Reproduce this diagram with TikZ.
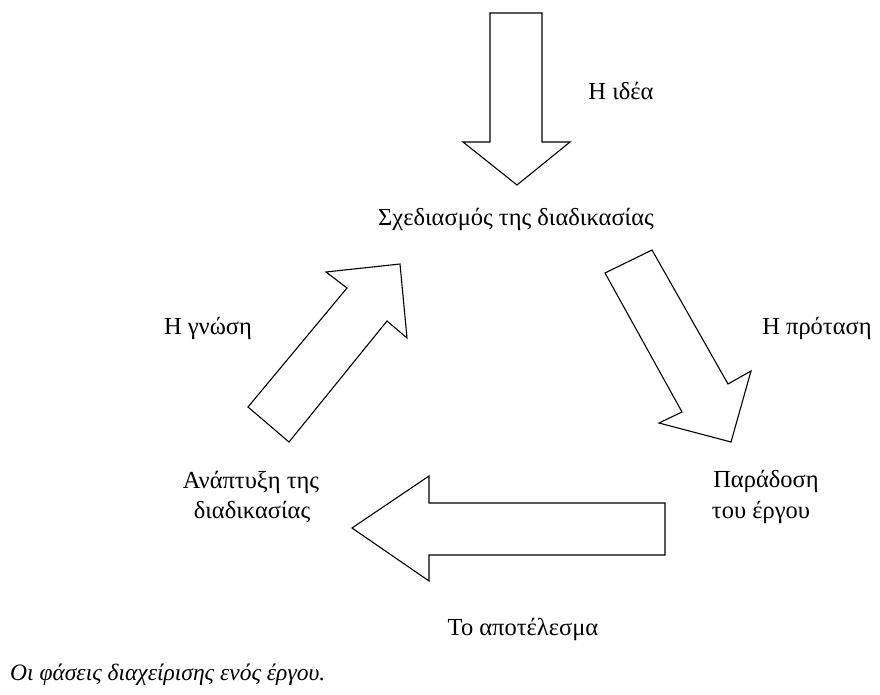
\documentclass[tikz,border=0pt]{standalone}
\usepackage{fontspec}
\setmainfont{Liberation Serif}
\begin{document}
\begin{tikzpicture}[x=1pt,y=-1pt,
  blockarrow/.style={draw=black,line width=1.1pt,fill=white,line join=miter},
  lbl/.style={font=\fontsize{24.5}{30}\selectfont,anchor=base,inner sep=0pt,align=center},
  captxt/.style={font=\fontsize{23.5}{30}\selectfont\itshape,anchor=base west,inner sep=0pt}]
\useasboundingbox[fill=white] (0,0) rectangle (880,695);
% down arrow (the idea)
\draw[blockarrow] (490,13) -- (542,13) -- (542,142) -- (570,142) -- (517,185) -- (463,142) -- (490,142) -- cycle;
% up-right arrow (knowledge)
\draw[blockarrow] (248,407) -- (289,442) -- (387,321) -- (407,338) -- (400,264) -- (326,272) -- (347,288) -- cycle;
% down-right arrow (proposal)
\draw[blockarrow] (605,273) -- (652,250) -- (728,384) -- (751,371) -- (731,442) -- (659,423) -- (682,412) -- cycle;
% left arrow (result)
\draw[blockarrow] (665,503) -- (665,555) -- (429,555) -- (429,581) -- (352,528) -- (429,476) -- (429,503) -- cycle;

\node[lbl] (idea) at (621,100) {Η ιδέα};
\node[lbl] (plan) at (516,225) {Σχεδιασμός της διαδικασίας};
\node[lbl] (prop) at (817,334) {Η πρόταση};
\node[lbl] (know) at (208,334) {Η γνώση};
\node[lbl] (dev1) at (251,488) {Ανάπτυξη της};
\node[lbl] (dev2) at (252,518) {διαδικασίας};
\node[lbl] (del1) at (766,487) {Παράδοση};
\node[lbl] (del2) at (761,518) {του έργου};
\node[lbl] (res) at (523,635) {Το αποτέλεσμα};
\node[captxt] (caption) at (10,680) {Οι φάσεις διαχείρισης ενός έργου.};
\end{tikzpicture}
\end{document}
